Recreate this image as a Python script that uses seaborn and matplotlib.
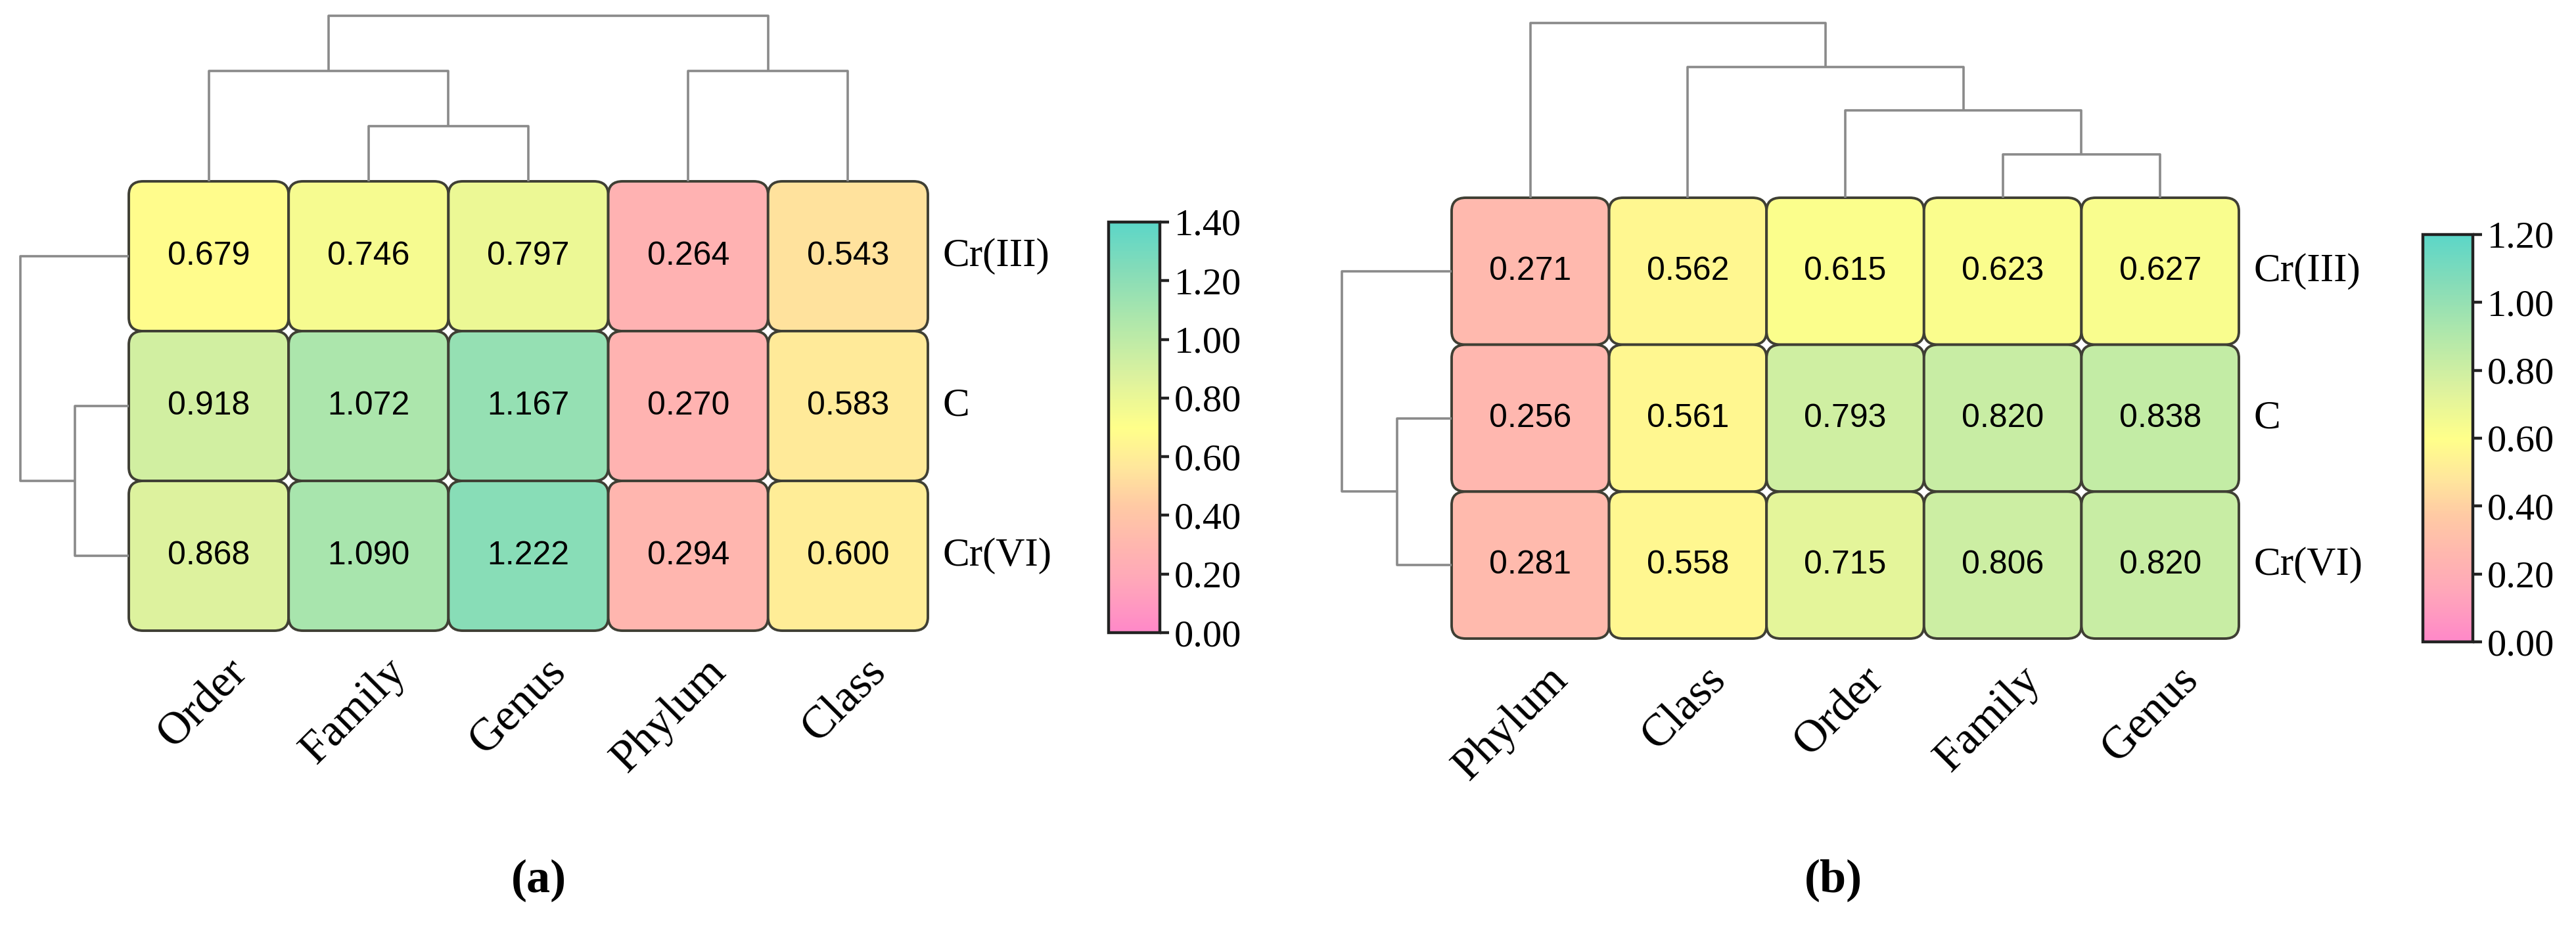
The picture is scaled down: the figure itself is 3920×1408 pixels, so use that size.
import numpy as np
import pandas as pd
import matplotlib
matplotlib.use("Agg")
import matplotlib.pyplot as plt
import matplotlib.transforms as mtransforms
from matplotlib.colors import LinearSegmentedColormap
from matplotlib.patches import FancyBboxPatch
import seaborn as sns

# ---------------- data ----------------
rows = ["Cr(III)", "C", "Cr(VI)"]

cols_a = ["Order", "Family", "Genus", "Phylum", "Class"]
a_cr3 = [0.679, 0.746, 0.797, 0.264, 0.543]
a_c = [0.918, 1.072, 1.167, 0.270, 0.583]
a_cr6 = [0.868, 1.090, 1.222, 0.294, 0.600]

cols_b = ["Phylum", "Class", "Order", "Family", "Genus"]
b_cr3 = [0.271, 0.562, 0.615, 0.623, 0.627]
b_c = [0.256, 0.561, 0.793, 0.820, 0.838]
b_cr6 = [0.281, 0.558, 0.715, 0.806, 0.820]

cbar_ticks_a = [0.0, 0.2, 0.4, 0.6, 0.8, 1.0, 1.2, 1.4]
cbar_ticks_b = [0.0, 0.2, 0.4, 0.6, 0.8, 1.0, 1.2]

# dendrogram trees: (left, right, merge height)
col_tree_a = (("Order", ("Family", "Genus", 1.0), 2.0), ("Phylum", "Class", 2.0), 3.0)
row_tree_a = ("Cr(III)", ("C", "Cr(VI)", 1.0), 2.0)
col_tree_b = ("Phylum", ("Class", ("Order", ("Family", "Genus", 1.0), 2.0), 3.0), 4.0)
row_tree_b = ("Cr(III)", ("C", "Cr(VI)", 1.0), 2.0)

panel_labels = ["(a)", "(b)"]

# ---------------- style ----------------
plt.rcParams["font.family"] = ["Liberation Serif", "DejaVu Serif"]
cmap = LinearSegmentedColormap.from_list(
    "pinkyellowteal",
    [(0.00, "#ff88c8"), (0.12, "#ffa6ba"), (0.22, "#ffb8ae"),
     (0.31, "#ffcaa4"), (0.40, "#ffe69c"), (0.50, "#ffff8a"),
     (0.62, "#ddf29e"), (0.75, "#b2e8aa"), (0.88, "#86dcb8"),
     (1.00, "#5cd6c8")])

EDGE = "#3f3f34"
DCOL = "#8a8a8a"

W, H = 3920, 1408
DPI = 200
fig = plt.figure(figsize=(W / DPI, H / DPI), dpi=DPI)


def fbox(x0, y0, x1, y1):
    """figure rect from pixel coordinates (top-left origin)."""
    return [x0 / W, 1 - y1 / H, (x1 - x0) / W, (y1 - y0) / H]


def draw_tree(ax, node, leaves, orient):
    if isinstance(node, str):
        return leaves.index(node) + 0.5, 0.0
    left, right, h = node
    p1, h1 = draw_tree(ax, left, leaves, orient)
    p2, h2 = draw_tree(ax, right, leaves, orient)
    pos = [p1, p1, p2, p2]
    hts = [h1, h, h, h2]
    if orient == "top":
        ax.plot(pos, hts, color=DCOL, lw=1.3, clip_on=False, solid_capstyle="butt")
    else:
        ax.plot(hts, pos, color=DCOL, lw=1.3, clip_on=False, solid_capstyle="butt")
    return (p1 + p2) / 2, h


def panel(df, vmax, ticks, hm_px, top_px, left_px, cb_px, col_tree, row_tree):
    ax = fig.add_axes(fbox(*hm_px))
    cax = fig.add_axes(fbox(*cb_px))
    sns.heatmap(df, ax=ax, cmap=cmap, vmin=0, vmax=vmax, annot=True, fmt=".3f",
                annot_kws={"family": "Liberation Sans", "size": 18, "color": "black"},
                cbar_ax=cax, cbar_kws={"ticks": ticks, "format": "%.2f"})
    mesh = ax.collections[0]
    vals = df.values
    colors = mesh.cmap(mesh.norm(vals))
    mesh.set_visible(False)
    nr, nc = vals.shape
    for i in range(nr):
        for j in range(nc):
            p = FancyBboxPatch((j, i), 1, 1,
                               boxstyle="round,pad=0,rounding_size=0.09",
                               fc=colors[i, j], ec=EDGE, lw=1.4, zorder=1,
                               clip_on=False)
            ax.add_patch(p)
    for t in ax.texts:
        t.set_zorder(5)
    for s in ax.spines.values():
        s.set_visible(False)
    ax.set_xlabel("")
    ax.set_ylabel("")
    # row labels on right
    ax.yaxis.tick_right()
    ax.tick_params(axis="y", length=0, pad=8, labelsize=22, labelrotation=0)
    ax.tick_params(axis="x", length=0, pad=19, labelsize=25)
    offset = mtransforms.ScaledTranslation(0.24, 0, fig.dpi_scale_trans)
    for lbl in ax.get_xticklabels():
        lbl.set_rotation(45)
        lbl.set_ha("right")
        lbl.set_va("center")
        lbl.set_rotation_mode("anchor")
        lbl.set_transform(lbl.get_transform() + offset)
    for lbl in ax.get_yticklabels():
        lbl.set_va("center")

    # colorbar
    cb = mesh.colorbar
    cb.outline.set_edgecolor("#222222")
    cb.outline.set_linewidth(1.6)
    cax.tick_params(labelsize=21, length=5, width=1.6, color="#222222", pad=3)

    # dendrograms
    tax = fig.add_axes(fbox(*top_px))
    tax.set_xlim(0, nc)
    tax.set_ylim(0, col_tree[-1])
    tax.axis("off")
    draw_tree(tax, col_tree, list(df.columns), "top")

    lax = fig.add_axes(fbox(*left_px))
    lax.set_ylim(nr, 0)
    lax.set_xlim(row_tree[-1], 0)
    lax.axis("off")
    draw_tree(lax, row_tree, list(df.index), "left")
    return ax


df_a = pd.DataFrame([a_cr3, a_c, a_cr6], index=rows, columns=cols_a)
df_b = pd.DataFrame([b_cr3, b_c, b_cr6], index=rows, columns=cols_b)

panel(df_a, 1.4, cbar_ticks_a,
      hm_px=(196, 276, 1412, 960), top_px=(196, 24, 1412, 276),
      left_px=(31, 276, 196, 960), cb_px=(1687, 338, 1765, 963),
      col_tree=col_tree_a, row_tree=row_tree_a)
panel(df_b, 1.2, cbar_ticks_b,
      hm_px=(2209, 301, 3407, 972), top_px=(2209, 35, 3407, 301),
      left_px=(2042, 301, 2209, 972), cb_px=(3687, 357, 3763, 977),
      col_tree=col_tree_b, row_tree=row_tree_b)

fig.text(820 / W, 1 - 1340 / H, panel_labels[0], ha="center", va="center",
         fontsize=26, fontweight="bold")
fig.text(2790 / W, 1 - 1340 / H, panel_labels[1], ha="center", va="center",
         fontsize=26, fontweight="bold")

fig.savefig("out.png", dpi=DPI, facecolor="white")
